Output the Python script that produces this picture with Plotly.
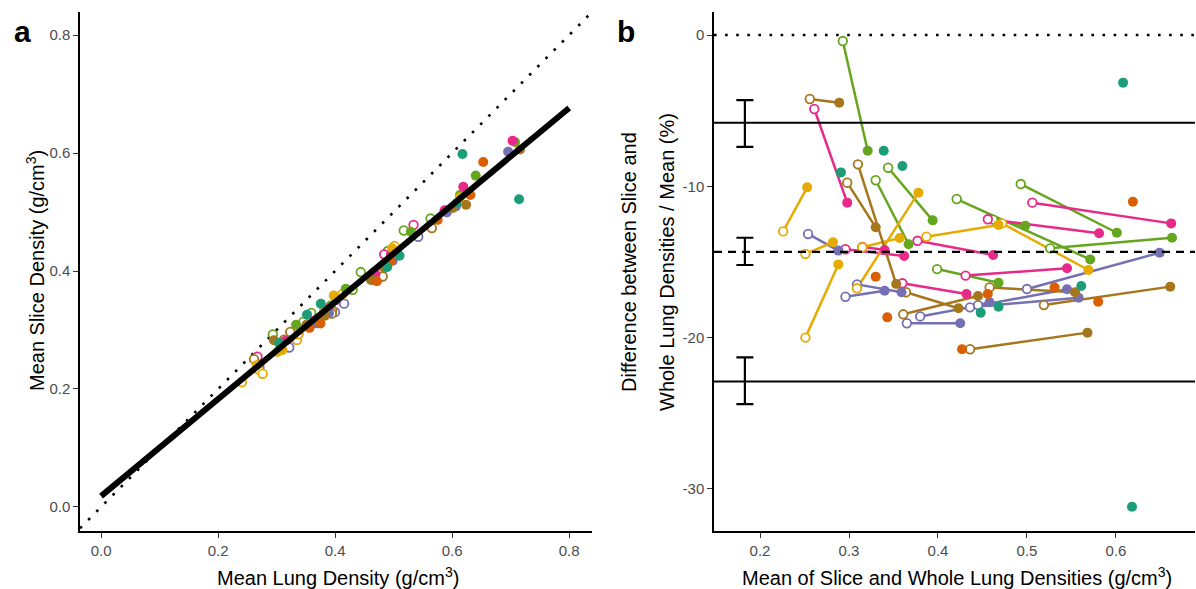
import numpy as np
import plotly.graph_objects as go

# ---------------- data ----------------
PALETTE = {"teal": "#1B9E77", "orange": "#D95F02", "purple": "#7570B3",
           "pink": "#E7298A", "green": "#66A61E", "yellow": "#E6AB02",
           "brown": "#A6761D"}

# paired subjects: open circle measurement -> filled circle measurement
pair_color = (["green"] * 8 + ["pink"] * 8 + ["purple"] * 8 +
              ["yellow"] * 7 + ["brown"] * 8)
# panel b coordinates: mean of slice & whole lung density, % difference
open_mean = [0.293, 0.344, 0.330, 0.493, 0.421, 0.526, 0.462, 0.399,
             0.261, 0.377, 0.456, 0.506, 0.296, 0.360, 0.431, 0.315,
             0.254, 0.309, 0.296, 0.365, 0.380, 0.500, 0.436, 0.445,
             0.226, 0.251, 0.251, 0.309, 0.315, 0.387, 0.472,
             0.256, 0.298, 0.310, 0.364, 0.361, 0.458, 0.519, 0.436]
open_pct = [-0.4, -8.77, -9.6, -9.85, -10.84, -14.1, -12.2, -15.47,
            -4.89, -13.6, -12.18, -11.08, -14.16, -16.41, -15.9, -14.0,
            -13.15, -16.48, -17.3, -19.05, -18.6, -16.79, -18.0, -17.85,
            -12.98, -14.47, -20.0, -16.74, -14.03, -13.33, -12.45,
            -4.23, -9.76, -8.55, -17.0, -18.46, -16.68, -17.85, -20.77]
filled_mean = [0.321, 0.394, 0.367, 0.601, 0.571, 0.663, 0.498, 0.468,
               0.298, 0.462, 0.581, 0.662, 0.362, 0.432, 0.545, 0.340,
               0.288, 0.359, 0.340, 0.425, 0.545, 0.649, 0.558, 0.458,
               0.253, 0.282, 0.288, 0.378, 0.357, 0.468, 0.569,
               0.289, 0.330, 0.353, 0.423, 0.445, 0.554, 0.661, 0.568]
filled_pct = [-7.65, -12.25, -13.83, -13.07, -14.83, -13.4, -12.6, -16.37,
              -11.08, -14.54, -13.1, -12.45, -14.61, -17.12, -15.42, -14.21,
              -14.25, -17.0, -16.9, -19.05, -16.8, -14.39, -17.36, -17.67,
              -10.07, -13.7, -15.16, -10.42, -13.42, -12.55, -15.53,
              -4.47, -12.71, -16.46, -18.06, -17.25, -17.0, -16.63, -19.67]

# single (unpaired) subjects, filled only
single_color = ["orange"] * 7 + ["teal"] * 8
single_mean = [0.330, 0.343, 0.456, 0.531, 0.427, 0.580, 0.619,
               0.339, 0.360, 0.291, 0.448, 0.468, 0.561, 0.608, 0.618]
single_pct = [-15.97, -18.66, -17.12, -16.68, -20.77, -17.63, -11.02,
              -7.65, -8.66, -9.08, -18.35, -17.96, -16.59, -3.15, -31.18]

# Bland-Altman statistics with confidence intervals
ba_levels = [-5.8, -14.33, -22.9]          # upper LoA, bias, lower LoA
ba_ci_high = [-4.3, -13.4, -21.3]
ba_ci_low = [-7.4, -15.2, -24.4]
ba_ci_x = 0.183

fit_x_range = [0.0, 0.8]

# ---------------- derived panel a values ----------------
def to_whole(m, p):
    return [mi * (1 - pi / 200.0) for mi, pi in zip(m, p)]

def to_slice(m, p):
    return [mi * (1 + pi / 200.0) for mi, pi in zip(m, p)]

open_whole, open_slice = to_whole(open_mean, open_pct), to_slice(open_mean, open_pct)
fill_whole, fill_slice = to_whole(filled_mean, filled_pct), to_slice(filled_mean, filled_pct)
sing_whole, sing_slice = to_whole(single_mean, single_pct), to_slice(single_mean, single_pct)

all_whole = np.array(open_whole + fill_whole + sing_whole)
all_slice = np.array(open_slice + fill_slice + sing_slice)
slope, intercept = np.polyfit(all_whole, all_slice, 1)

# ---------------- figure ----------------
W, H = 1196, 589
FONT = "Liberation Sans, Arial, Helvetica, sans-serif"
MS = 10
MS_OPEN = 8.6
OPEN_LW = 1.8

A_X = [-0.036, 0.839]
A_Y = [-0.0407, 0.839]
B_X = [0.1483, 0.6888]
B_Y = [-32.78, 1.52]

pair_hex = [PALETTE[c] for c in pair_color]
fill_hex = [PALETTE[c] for c in pair_color + single_color]

fig = go.Figure()

# panel a: identity line
fig.add_trace(go.Scatter(x=A_X, y=A_X, mode="lines", xaxis="x", yaxis="y",
                         line=dict(color="black", width=2.6, dash="2.6px,9px"),
                         hoverinfo="skip", showlegend=False))
# panel a points
fig.add_trace(go.Scatter(x=open_whole, y=open_slice, mode="markers", xaxis="x", yaxis="y",
                         marker=dict(symbol="circle", size=MS_OPEN, color="white",
                                     line=dict(width=OPEN_LW, color=pair_hex)),
                         showlegend=False))
fig.add_trace(go.Scatter(x=fill_whole + sing_whole, y=fill_slice + sing_slice,
                         mode="markers", xaxis="x", yaxis="y",
                         marker=dict(symbol="circle", size=MS, color=fill_hex,
                                     line=dict(width=0)),
                         showlegend=False))
# regression line
fig.add_trace(go.Scatter(x=fit_x_range,
                         y=[intercept + slope * v for v in fit_x_range],
                         mode="lines", xaxis="x", yaxis="y",
                         line=dict(color="black", width=6),
                         showlegend=False))

# panel b: lines connecting pairs, one trace per colour
for cname in ["green", "pink", "purple", "yellow", "brown"]:
    xs, ys = [], []
    for i, c in enumerate(pair_color):
        if c == cname:
            xs += [open_mean[i], filled_mean[i], None]
            ys += [open_pct[i], filled_pct[i], None]
    fig.add_trace(go.Scatter(x=xs, y=ys, mode="lines", xaxis="x2", yaxis="y2",
                             line=dict(color=PALETTE[cname], width=2.5),
                             showlegend=False, hoverinfo="skip"))

fig.add_trace(go.Scatter(x=open_mean, y=open_pct, mode="markers", xaxis="x2", yaxis="y2",
                         marker=dict(symbol="circle", size=MS_OPEN, color="white",
                                     line=dict(width=OPEN_LW, color=pair_hex)),
                         showlegend=False))
fig.add_trace(go.Scatter(x=filled_mean + single_mean, y=filled_pct + single_pct,
                         mode="markers", xaxis="x2", yaxis="y2",
                         marker=dict(symbol="circle", size=MS, color=fill_hex,
                                     line=dict(width=0)),
                         showlegend=False))

# error bars for LoA / bias confidence intervals
fig.add_trace(go.Scatter(x=[ba_ci_x] * 3, y=ba_levels, mode="markers",
                         xaxis="x2", yaxis="y2",
                         marker=dict(size=1, opacity=0),
                         error_y=dict(type="data", symmetric=False,
                                      array=[h - l for h, l in zip(ba_ci_high, ba_levels)],
                                      arrayminus=[l - lo for l, lo in zip(ba_levels, ba_ci_low)],
                                      color="black", thickness=2.2, width=8.5),
                         showlegend=False, hoverinfo="skip"))

shapes = [
    dict(type="line", xref="x2 domain", yref="y2", x0=0, x1=1, y0=0, y1=0,
         line=dict(color="black", width=2.6, dash="2.6px,8.5px")),
    dict(type="line", xref="x2 domain", yref="y2", x0=0, x1=1,
         y0=ba_levels[0], y1=ba_levels[0], line=dict(color="black", width=2.2)),
    dict(type="line", xref="x2 domain", yref="y2", x0=0, x1=1,
         y0=ba_levels[1], y1=ba_levels[1], line=dict(color="black", width=2.2, dash="8px,6px")),
    dict(type="line", xref="x2 domain", yref="y2", x0=0, x1=1,
         y0=ba_levels[2], y1=ba_levels[2], line=dict(color="black", width=2.2)),
]

ydom = [(H - 531) / H, (H - 12) / H]
axis_common = dict(showline=True, linecolor="black", linewidth=1.5, ticks="outside",
                   ticklen=5, tickwidth=1.3, tickcolor="#333333", showgrid=False,
                   zeroline=False, automargin=False,
                   tickfont=dict(family=FONT, size=15, color="#4D4D4D"))

fig.update_layout(
    width=W, height=H, margin=dict(l=0, r=0, t=0, b=0),
    paper_bgcolor="white", plot_bgcolor="white", showlegend=False,
    font=dict(family=FONT),
    xaxis=dict(domain=[80 / W, 592 / W], range=A_X, anchor="y",
               tickvals=[0, 0.2, 0.4, 0.6, 0.8], ticktext=["0.0", "0.2", "0.4", "0.6", "0.8"],
               **axis_common),
    yaxis=dict(domain=ydom, range=A_Y, anchor="x",
               tickvals=[0, 0.2, 0.4, 0.6, 0.8], ticktext=["0.0", "0.2", "0.4", "0.6", "0.8"],
               **axis_common),
    xaxis2=dict(domain=[714 / W, 1195 / W], range=B_X, anchor="y2",
                tickvals=[0.2, 0.3, 0.4, 0.5, 0.6], ticktext=["0.2", "0.3", "0.4", "0.5", "0.6"],
                **axis_common),
    yaxis2=dict(domain=ydom, range=B_Y, anchor="x2",
                tickvals=[0, -10, -20, -30], ticktext=["0", "-10", "-20", "-30"],
                **axis_common),
    shapes=shapes,
)

title_font = dict(family=FONT, size=20, color="black")
ann = [
    dict(text="Mean Lung Density (g/cm<sup>3</sup>)", x=338 / W, y=(H - 576) / H),
    dict(text="Mean of Slice and Whole Lung Densities (g/cm<sup>3</sup>)", x=957 / W, y=(H - 576) / H),
    dict(text="Mean Slice Density (g/cm<sup>3</sup>)", x=35 / W, y=(H - 271) / H, textangle=-90),
    dict(text="Difference between Slice and", x=629 / W, y=(H - 262) / H, textangle=-90),
    dict(text="Whole Lung Densities / Mean (%)", x=667 / W, y=(H - 262) / H, textangle=-90),
]
annotations = []
for a in ann:
    d = dict(xref="paper", yref="paper", showarrow=False, xanchor="center",
             yanchor="middle", font=title_font)
    d.update(a)
    annotations.append(d)
annotations.append(dict(text="<b>a</b>", x=22 / W, y=(H - 31) / H, xref="paper", yref="paper",
                        showarrow=False, xanchor="center", yanchor="middle",
                        font=dict(family=FONT, size=30, color="black")))
annotations.append(dict(text="<b>b</b>", x=626 / W, y=(H - 31) / H, xref="paper", yref="paper",
                        showarrow=False, xanchor="center", yanchor="middle",
                        font=dict(family=FONT, size=30, color="black")))
fig.update_layout(annotations=annotations)

fig.write_html("out.html")
